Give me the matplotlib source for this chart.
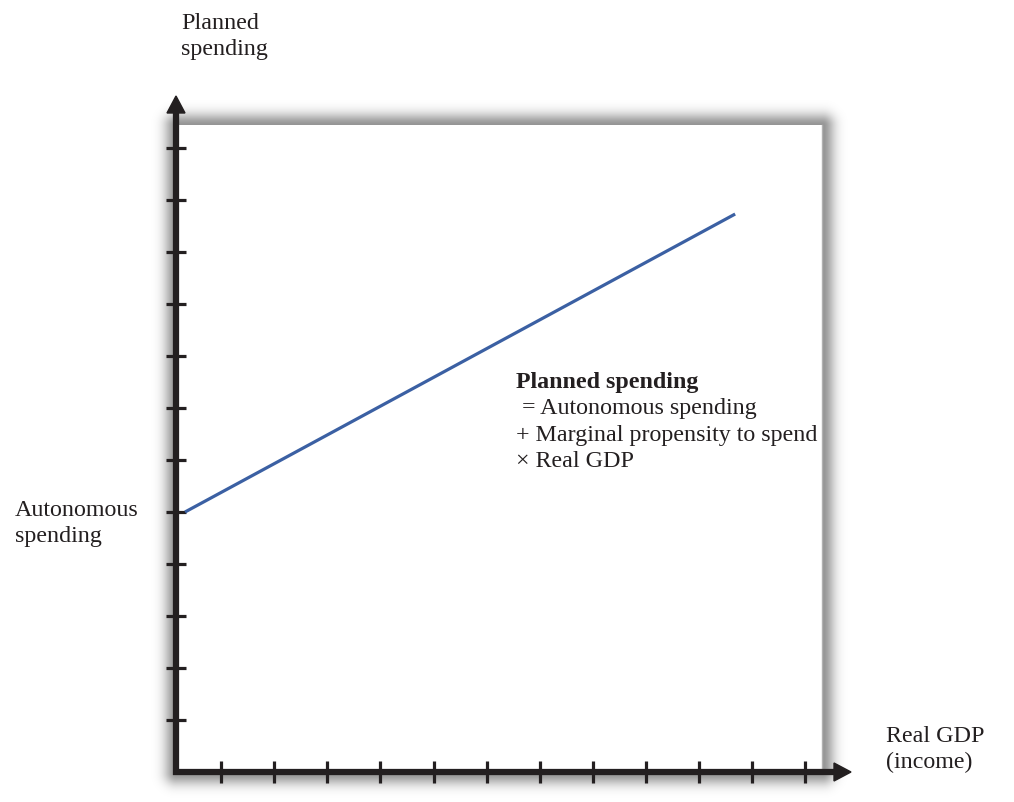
import numpy as np
import matplotlib
matplotlib.use("Agg")
import matplotlib.pyplot as plt
from matplotlib.patches import Polygon, Rectangle

# ---- data ----
x_ticks = list(range(1, 13))
y_ticks = list(range(1, 13))
autonomous_spending = 5.0
line_x = [0.32, 10.68]
line_y = [5.0, 10.73]

axis_label_y = ["Planned", "spending"]
axis_label_x = ["Real GDP", "(income)"]
intercept_label = ["Autonomous", "spending"]
eq_lines = ["Planned spending", " = Autonomous spending",
            "+ Marginal propensity to spend", "\u00d7 Real GDP"]

W, H = 1014, 803
fig = plt.figure(figsize=(W / 100, H / 100), dpi=100)
fig.patch.set_facecolor("white")

# ---- background shadow panel (pixel coords) ----
bg = fig.add_axes([0, 0, 1, 1])
bg.set_xlim(0, W)
bg.set_ylim(H, 0)
bg.axis("off")
x0, x1, y0, y1 = 176, 822, 126, 773
yy, xx = np.mgrid[0:H, 0:W]
dx = np.maximum(np.maximum(x0 - xx, xx - x1), 0)
dy = np.maximum(np.maximum(y0 - yy, yy - y1), 0)
d = np.sqrt(dx ** 2 + dy ** 2)
alpha = 0.42 * np.exp(-(d / 12.0) ** 2)
alpha[(xx >= x0) & (xx <= x1) & (yy >= y0) & (yy <= y1)] = 0
img = np.zeros((H, W, 4))
img[..., 3] = alpha
bg.imshow(img, extent=(0, W, H, 0), interpolation="bilinear", zorder=0)
bg.add_patch(Rectangle((x0, y0), x1 - x0, y1 - y0, facecolor="white",
                       edgecolor="none", zorder=1))
bg.plot([x1, x1], [y0, y1], color="#b0b0b0", lw=1.0, zorder=2)

# ---- main axes in data coords ----
sx, sy = 53.1, 52.0
ax = fig.add_axes([0, 0, 1, 1])
ax.set_xlim(-176 / sx + 0.15, (W - 176) / sx + 0.15)
ax.set_ylim(-(H - 773) / sy, 773 / sy)
ax.axis("off")
ax.patch.set_alpha(0)

ox, oy = 0.15, 0.0
axc = "#231f20"
ymax_tip = (773 - 97) / sy
ybase = (773 - 114) / sy
xmax_tip = (851 - 176) / sx + ox
xbase = (834 - 176) / sx + ox

ax.plot([ox, ox], [oy - 3 / sy, ybase + 0.05], color=axc, lw=4.5,
        solid_capstyle="butt", zorder=3)
ax.plot([ox - 3 / sx, xbase + 0.05], [oy, oy], color=axc, lw=4.5,
        solid_capstyle="butt", zorder=3)
ax.add_patch(Polygon([[ox - 9 / sx, ybase], [ox + 9 / sx, ybase], [ox, ymax_tip]],
                     closed=True, color=axc, zorder=3))
ax.add_patch(Polygon([[xbase, oy - 9 / sy], [xbase, oy + 9 / sy], [xmax_tip, oy]],
                     closed=True, color=axc, zorder=3))

for t in y_ticks:
    ax.plot([ox - 10 / sx, ox + 10 / sx], [t, t], color=axc, lw=2.3,
            solid_capstyle="butt", zorder=3)
for t in x_ticks:
    ax.plot([t, t], [oy - 11 / sy, oy + 11 / sy], color=axc, lw=2.3,
            solid_capstyle="butt", zorder=3)

ax.plot(line_x, line_y, color="#3b60a3", lw=2.3, solid_capstyle="butt", zorder=4)

font = "Liberation Serif"
fs = 17.3


def px(p):
    return (p - 176) / sx + ox


def py(p):
    return (773 - p) / sy


def label(lines, xp, baselines, bold_first=False):
    for i, (s, yp) in enumerate(zip(lines, baselines)):
        ax.text(px(xp), py(yp), s, fontsize=fs, family=font, color="#231f20",
                ha="left", va="baseline",
                fontweight="bold" if (bold_first and i == 0) else "normal")


label(axis_label_y, 181, [29, 55])
label(axis_label_x, 886, [742, 768])
label(intercept_label, 15, [516, 542])
label(eq_lines, 516, [388, 414, 441, 467], bold_first=True)

fig.savefig("out.png", dpi=100, facecolor="white")
